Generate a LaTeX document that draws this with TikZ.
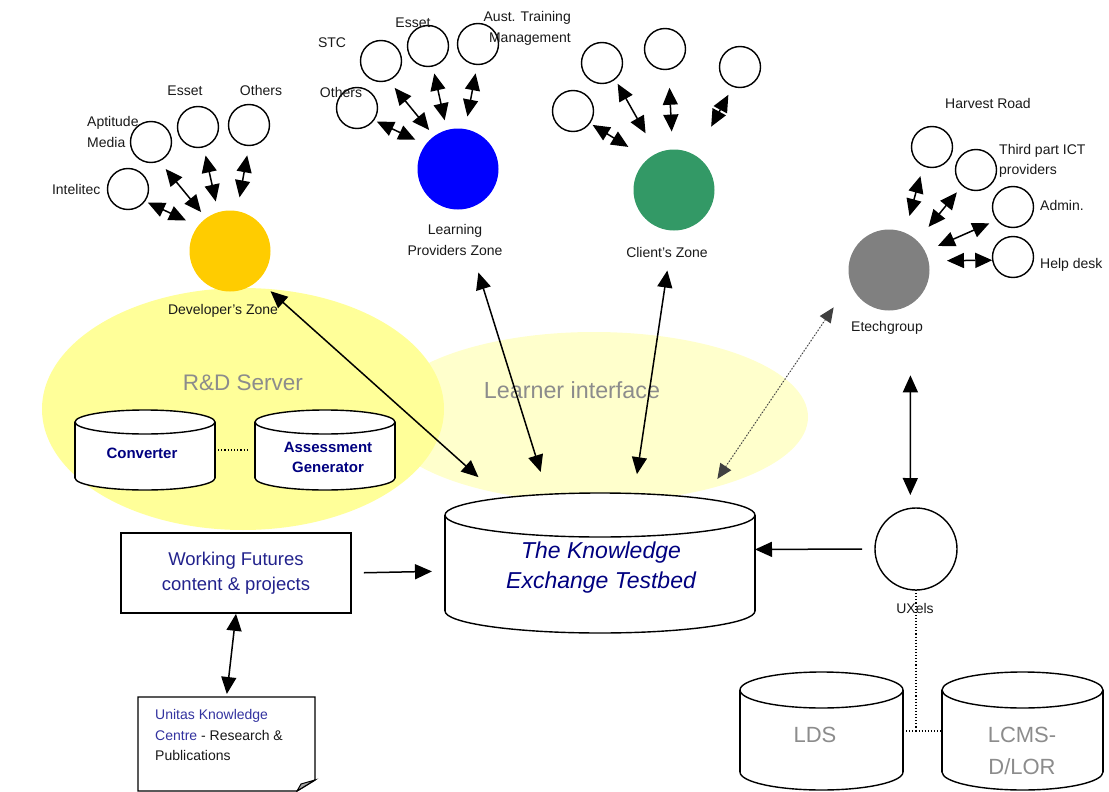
\documentclass[tikz,border=0pt]{standalone}
\usepackage{fontspec}
\setmainfont{Liberation Sans}
\usetikzlibrary{arrows.meta,positioning}
\definecolor{rdyellow}{HTML}{FFFF99}
\definecolor{paleyellow}{HTML}{FFFFCC}
\definecolor{devorange}{HTML}{FFCC00}
\definecolor{lpblue}{HTML}{0000FF}
\definecolor{clgreen}{HTML}{339966}
\definecolor{etgrey}{HTML}{808080}
\definecolor{navytxt}{HTML}{000080}
\definecolor{wfblue}{HTML}{22228C}
\definecolor{unitasblue}{HTML}{3333A0}
\definecolor{greytxt}{HTML}{8C8C8C}
\tikzset{
  site/.style={circle,draw,fill=white,line width=1.4pt,minimum size=41pt,inner sep=0,outer sep=0},
  zone/.style={circle,fill=#1,minimum size=81pt,inner sep=0,outer sep=0},
  frame/.style={rectangle,draw=none,inner sep=0,outer sep=0},
  lbl/.style={inner sep=0,text=black!90,font=\fontsize{14}{20.5}\selectfont},
  dbtxt/.style={inner sep=0,text=navytxt,align=center,font=\fontsize{15}{20}\selectfont\bfseries},
  bigtxt/.style={inner sep=0,text=greytxt,align=center,font=\fontsize{22.5}{32}\selectfont},
  link/.style={{Triangle[length=17pt,width=15pt]}-{Triangle[length=17pt,width=15pt]},line width=1.5pt},
  feed/.style={-{Triangle[length=17pt,width=15pt]},line width=1.5pt},
  dotlink/.style={{Triangle[length=15pt,width=13pt]}-{Triangle[length=15pt,width=13pt]},
    dotted,line width=1.1pt,draw=black!75,fill=black!75}
}
% drum: name, centre x, top y, bottom y, x radius, y radius
\newcommand{\drum}[6]{%
  \draw[line width=1.4pt,fill=white] (#2,#4) ellipse [x radius=#5, y radius=#6];
  \fill[white] (#2-#5,#3) rectangle (#2+#5,#4);
  \draw[line width=1.4pt] (#2-#5,#3) -- (#2-#5,#4) (#2+#5,#3) -- (#2+#5,#4);
  \draw[line width=1.4pt,fill=white] (#2,#3) ellipse [x radius=#5, y radius=#6];
  \node[frame,minimum width=2*#5,minimum height=#4-#3+2*#6] (#1) at (#2,{(#3+#4)/2}) {};
}

\begin{document}
\begin{tikzpicture}[x=1pt,y=-1pt]
  \useasboundingbox (0,0) rectangle (1109,792);

  % server areas
  \fill[paleyellow] (594,417) ellipse [x radius=214, y radius=85];
  \fill[rdyellow] (243,409) ellipse [x radius=201, y radius=121];
  \node[bigtxt] (rd-l) at (243,383) {R\&D Server};
  \node[bigtxt,font=\fontsize{23.3}{28}\selectfont] (learner-l) at (572,390) {Learner interface};

  % databases
  \drum{conv}{145}{422}{478}{70}{12}
  \drum{assess}{325}{422}{478}{70}{12}
  \drum{ket}{600}{515}{611}{155}{22}
  \drum{lds}{821.5}{690}{772}{81.5}{18}
  \drum{lcms}{1022.5}{690}{772}{80.5}{18}
  \node[dbtxt] (conv-t) at (142,453) {Converter};
  \node[dbtxt] (assess-t) at (328,457) {Assessment\\Generator};
  \node[inner sep=0,text=navytxt,align=center,font=\fontsize{23}{30}\selectfont\itshape] (ket-t) at (601,568) {The Knowledge\\Exchange Testbed};
  \node[bigtxt,font=\fontsize{22}{32}\selectfont] (lds-t) at (815,735) {LDS};
  \node[bigtxt,font=\fontsize{22}{32}\selectfont] (lcms-t) at (1022,751) {LCMS-\\D/LOR};

  % content boxes
  \node[draw,line width=1.6pt,minimum width=230pt,minimum height=80pt,align=center,
    text=wfblue,font=\fontsize{18.5}{25}\selectfont] (wf) at (236,573) {Working Futures\\content \& projects};
  \node[frame,minimum width=177pt,minimum height=94pt] (unitas) at (226.5,744) {};
  \draw[line width=1.4pt,fill=white] (unitas.north west) -- (unitas.north east) -- (315,780)
    -- (297,791) -- (unitas.south west) -- cycle;
  \draw[line width=1pt,fill=black!35] (315,780) -- (301,784) -- (297,791) -- cycle;
  \node[lbl,align=left,anchor=west] (unitas-t) at (155,735)
    {{\color{unitasblue}Unitas Knowledge}\\{\color{unitasblue}Centre} - Research \&\\Publications};

  % developer's zone
  \node[zone=devorange] (dev) at (230,251) {};
  \node[site] (intelitec) at (128,189) {};
  \node[site] (aptitude) at (151,142) {};
  \node[site] (dvesset) at (198,127) {};
  \node[site] (dvothers) at (249,125) {};
  \draw[link,shorten <=3.6pt,shorten >=13.4pt] (intelitec.-36) -- (dev.142);
  \draw[link,shorten <=10.5pt,shorten >=8pt] (aptitude.-67) -- (dev.126);
  \draw[link,shorten <=9pt,shorten >=11pt] (dvesset.-74) -- (dev.107);
  \draw[link,shorten <=10pt,shorten >=14pt] (dvothers.-90) -- (dev.80);
  \node[lbl,left=7pt of intelitec] (intelitec-l) {Intelitec};
  \node[lbl,align=left,anchor=west] (aptitude-l) at (87,132) {Aptitude\\Media};
  \node[lbl] (dvesset-l) at (185,91) {Esset};
  \node[lbl] (dvothers-l) at (261,90) {Others};
  \node[lbl] (dev-l) at (223,311) {Developer's Zone};

  % learning providers zone
  \node[zone=lpblue] (lp) at (458,169) {};
  \node[site] (lpothers) at (357,108) {};
  \node[site] (stc) at (381,61) {};
  \node[site] (lpesset) at (428,46) {};
  \node[site] (aust) at (478,44) {};
  \draw[link,shorten <=3.6pt,shorten >=11.4pt] (lpothers.-36) -- (lp.143);
  \draw[link,shorten <=10pt,shorten >=8pt] (stc.-69) -- (lp.126);
  \draw[link,shorten <=7.7pt,shorten >=10pt] (lpesset.-77) -- (lp.106);
  \draw[link,shorten <=9pt,shorten >=12.8pt] (aust.-92) -- (lp.80);
  \node[lbl] (lpothers-l) at (341,92) {Others};
  \node[lbl] (stc-l) at (332,43) {STC};
  \node[lbl] (lpesset-l) at (413,23) {Esset};
  \node[lbl,align=right,anchor=east] (aust-l) at (571,28.5) {Aust. Training\\Management};
  \node[lbl,align=center] (lp-l) at (455,240) {Learning\\Providers Zone};

  % client's zone
  \node[zone=clgreen] (cl) at (674,190) {};
  \node[site] (clA) at (573,111) {};
  \node[site] (clB) at (602,63) {};
  \node[site] (clC) at (665,49) {};
  \node[site] (clD) at (740,67) {};
  \draw[link,shorten <=3.6pt,shorten >=23pt] (clA.-36) -- (cl.130);
  \draw[link,shorten <=5.6pt,shorten >=23pt] (clB.-51) -- (cl.115);
  \draw[link,shorten <=18.6pt,shorten >=18pt] (clC.-80) -- (cl.92);
  \draw[link,shorten <=9.7pt,shorten >=33pt] (clD.-110) -- (cl.58);
  \node[lbl] (cl-l) at (667,252) {Client's Zone};

  % etechgroup
  \node[zone=etgrey] (et) at (889,270) {};
  \node[site] (harvest) at (932,147) {};
  \node[site] (third) at (976,170) {};
  \node[site] (admin) at (1013,207) {};
  \node[site] (help) at (1013,257) {};
  \draw[link,shorten <=10.9pt,shorten >=17.4pt] (harvest.-115) -- (et.67);
  \draw[link,shorten <=9pt,shorten >=18pt] (third.-131) -- (et.46);
  \draw[link,shorten <=8.4pt,shorten >=14pt] (admin.-141) -- (et.27);
  \draw[link,shorten <=0.5pt,shorten >=18.5pt] (help.-171) -- (et.13);
  \node[lbl] (harvest-l) at (988,103) {Harvest Road};
  \node[lbl,align=left,anchor=west] (third-l) at (999,161) {Third part ICT\\providers};
  \node[lbl,anchor=west] (admin-l) at (1040,205) {Admin.};
  \node[lbl,anchor=west] (help-l) at (1040,265) {Help desk};
  \node[lbl] (et-l) at (887,328) {Etechgroup};

  % uxels
  \node[site,minimum size=82pt] (ux) at (916,549) {};
  \draw[dotted,line width=1.1pt] (ux.south) -- (ux.south |- lds.east);
  \draw[dotted,line width=1.1pt] (lds.east) -- (lcms.west);
  \node[lbl] (ux-l) at (915,608) {UXels};

  % links to the testbed
  \draw[link,shorten <=16.6pt,shorten >=23.8pt] (dev.-46) -- (ket.146.9);
  \draw[link,shorten <=66pt,shorten >=22pt] (lp.-89) -- (ket.127.4);
  \draw[link,shorten <=40.5pt,shorten >=19pt] (cl.-91) -- (ket.64.7);
  \draw[dotlink,shorten <=17pt,shorten >=30pt] (ket.33.4) -- (et.198);
  \draw[link,shorten <=71pt,shorten >=13.4pt] (et.-58.3) -- (ux.98.4);
  \draw[feed,shorten <=13pt] (ux.west) -- (ket.5.2);
  \draw[feed,shorten <=12pt,shorten >=13pt] (wf.east) -- (ket.183.7);
  \draw[link,shorten >=3pt] (wf.south) -- (unitas.north);
  \draw[dotted,line width=1.2pt,shorten <=3pt,shorten >=7pt] (conv.east) -- (assess.west);
\end{tikzpicture}
\end{document}
